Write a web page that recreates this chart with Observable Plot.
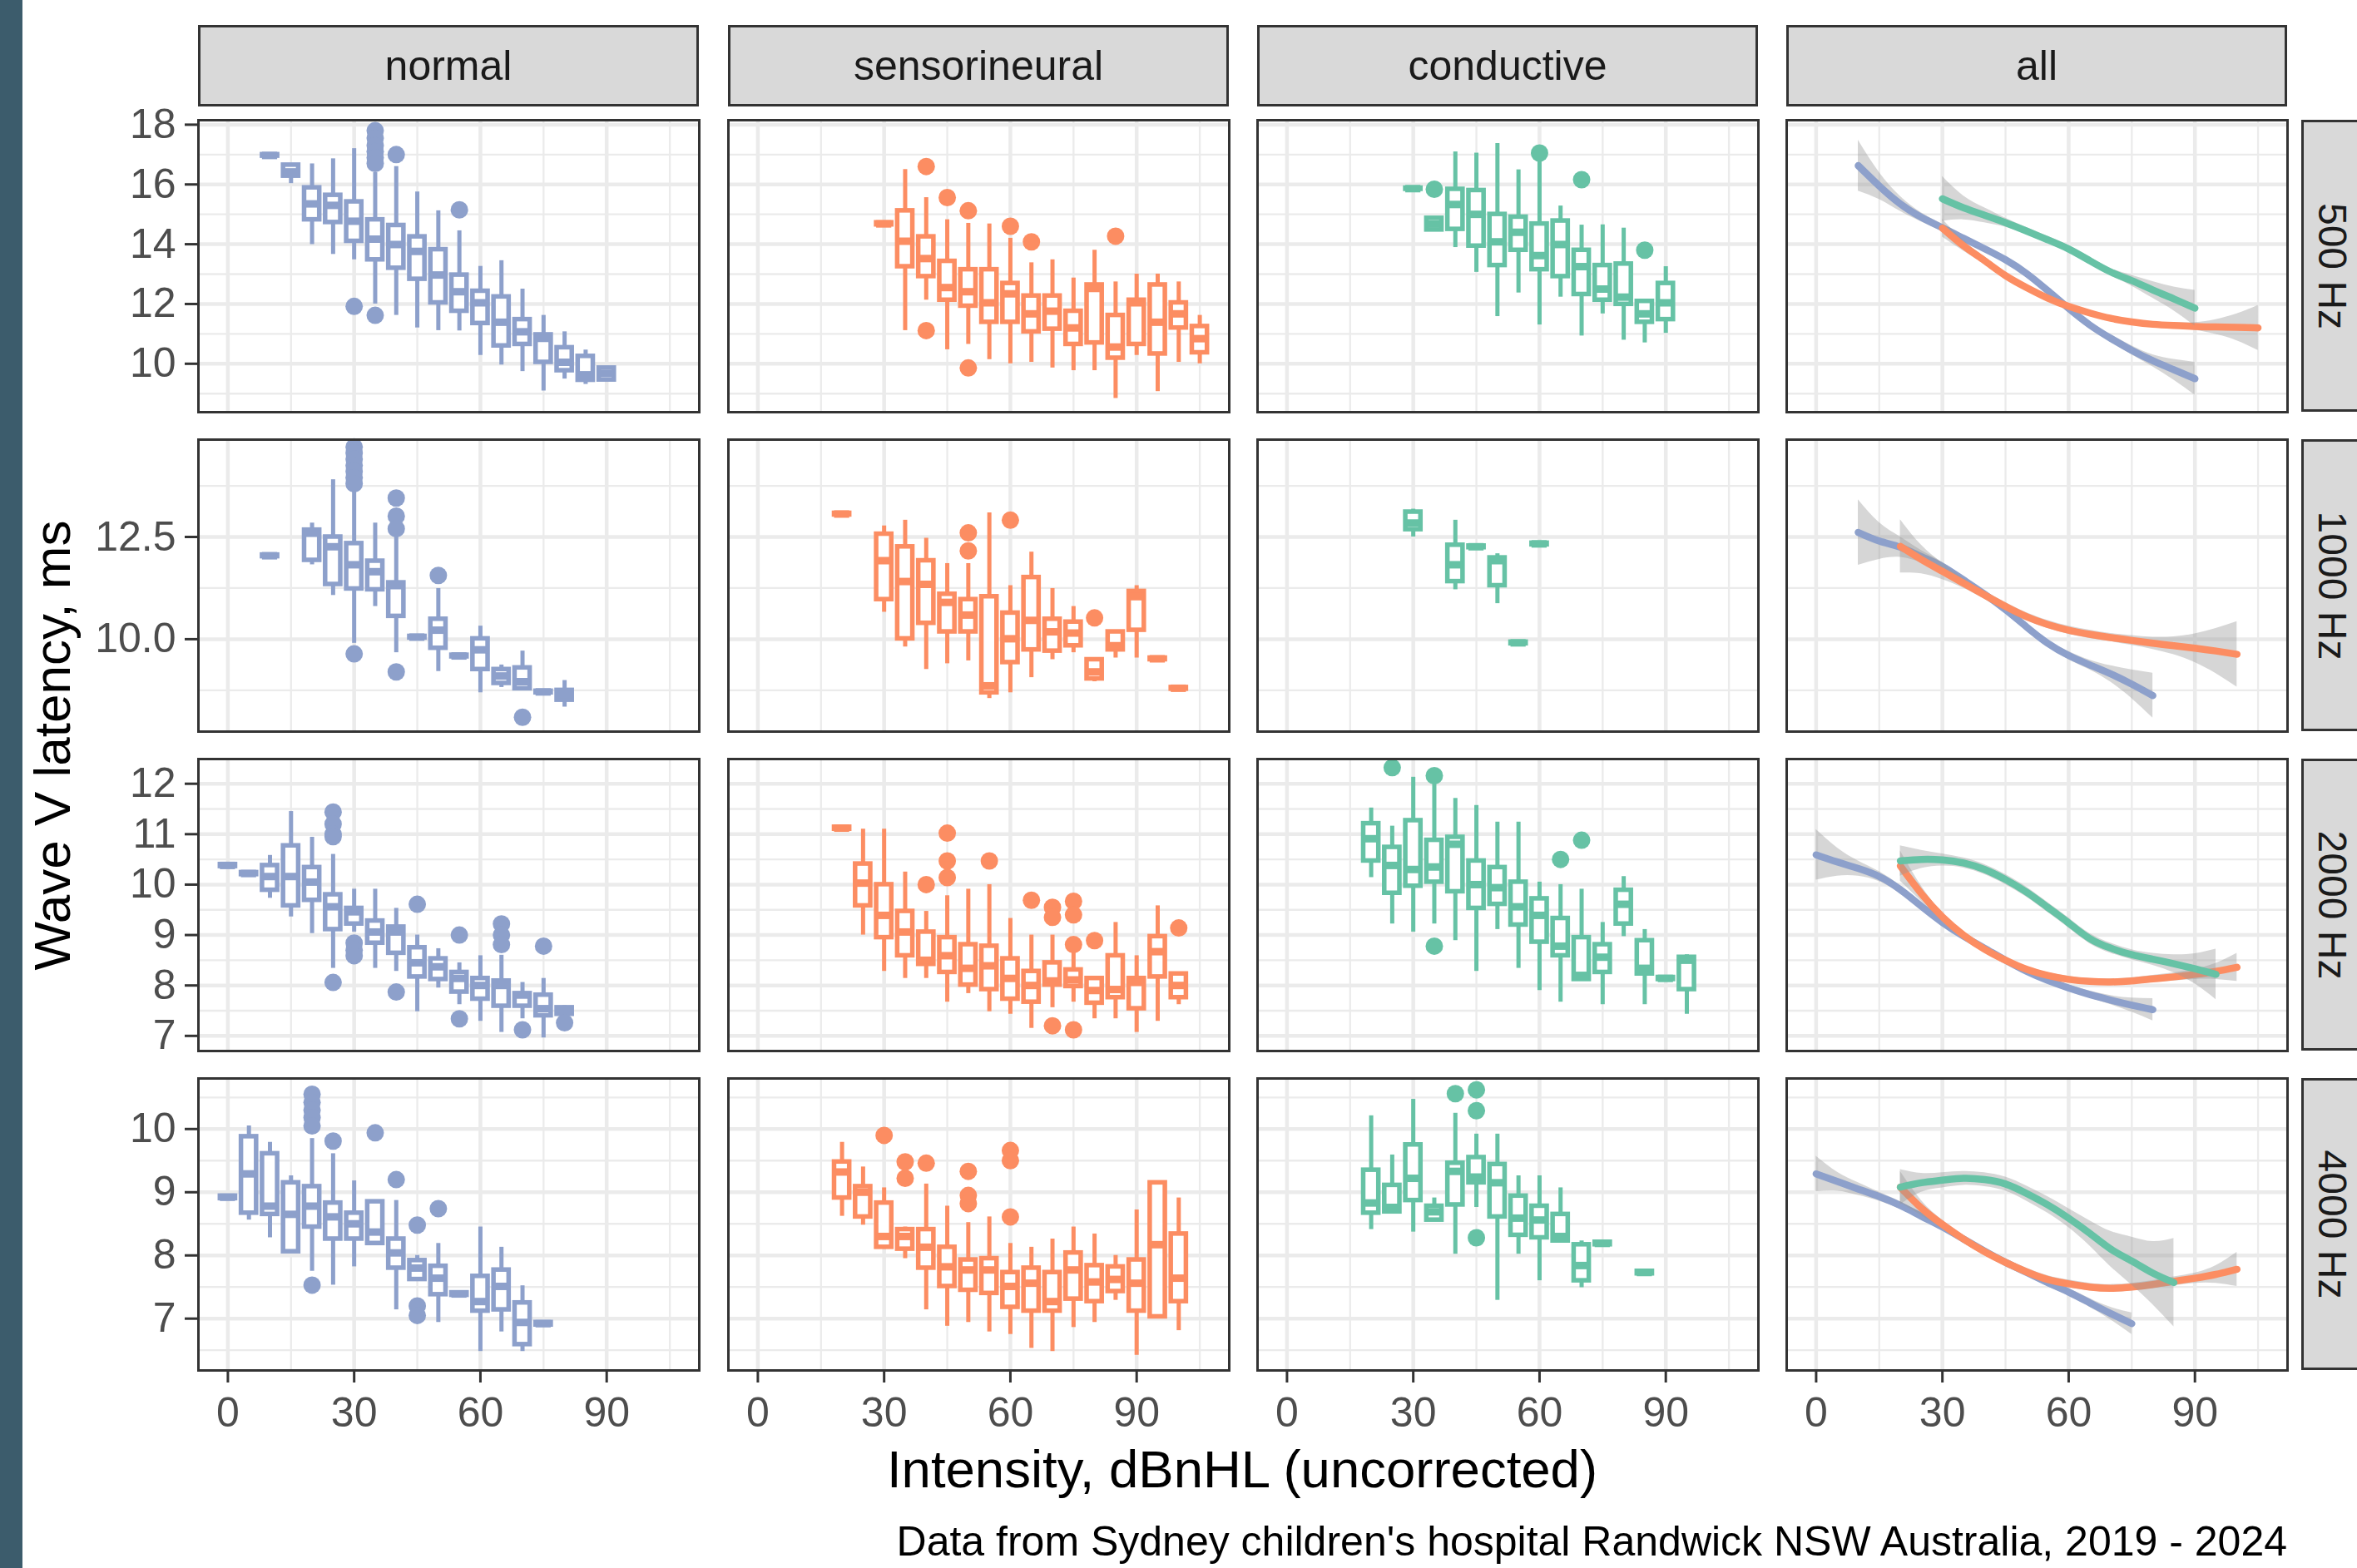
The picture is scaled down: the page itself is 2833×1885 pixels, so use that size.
<!DOCTYPE html>
<html><head><meta charset="utf-8">
<script src="https://cdn.jsdelivr.net/npm/d3@7"></script>
<script src="https://cdn.jsdelivr.net/npm/@observablehq/plot@0.6"></script>
<style>
html,body{margin:0;padding:0;background:#fff;}
#chart{position:relative;width:2833px;height:1885px;overflow:hidden;background:#fff;font-family:"Liberation Sans",Arial,sans-serif;}
.strip{position:absolute;box-sizing:border-box;background:#d9d9d9;border:3px solid #333;color:#1a1a1a;font-size:50px;display:flex;align-items:center;justify-content:center;}
.txt{position:absolute;white-space:nowrap;line-height:1;}
</style></head><body><div id="chart"></div>
<script>
// ---------- categories / labels ----------
const groups = ["normal", "sensorineural", "conductive", "all"];
const freqLabels = ["500 Hz", "1000 Hz", "2000 Hz", "4000 Hz"];
const groupColors = ["#8DA0CB", "#FC8D62", "#66C2A5"];
const xTicks = [0, 30, 60, 90];
const xMinor = [15, 45, 75, 105];
const yTicks = [[10, 12, 14, 16, 18], [10, 12.5], [7, 8, 9, 10, 11, 12], [7, 8, 9, 10]];
const yMinor = [[9, 11, 13, 15, 17], [8.75, 11.25, 13.75], [7.5, 8.5, 9.5, 10.5, 11.5], [6.5, 7.5, 8.5, 9.5, 10.5]];
const yDomains = [[8.38, 18.15], [7.74, 14.88], [6.7, 12.49], [6.18, 10.8]];
const xDomain = [-7, 112];

// ---------- boxplot summaries: [intensity, whiskerLow, q1, median, q3, whiskerHigh] ----------
const n500 = [[10,16.95,16.95,16.97,17.0,17.0],[15,16.03,16.28,16.42,16.65,16.7],[20,13.99,14.82,15.35,15.89,16.69],[25,13.66,14.73,15.3,15.64,16.86],[30,13.48,14.1,14.77,15.42,17.2],[35,12.0,13.48,14.17,14.82,16.4],[40,11.62,13.2,13.99,14.63,16.6],[45,11.2,12.83,13.76,14.25,15.75],[50,11.11,12.04,12.97,13.82,15.12],[55,11.1,11.76,12.41,12.97,14.45],[60,10.28,11.35,12.04,12.43,13.26],[65,9.96,10.6,11.39,12.24,13.45],[70,9.74,10.65,11.07,11.48,12.5],[75,9.09,10.05,10.85,10.97,11.62],[80,9.49,9.77,10.05,10.54,11.07],[85,9.31,9.45,9.63,10.25,10.46],[90,9.4,9.46,9.68,9.86,9.9]];
const s500 = [[30,14.65,14.65,14.68,14.72,14.72],[35,11.11,13.25,14.1,15.12,16.5],[40,12.13,12.92,13.52,14.25,15.56],[45,10.47,12.13,12.55,13.43,14.82],[50,10.65,11.93,12.41,13.15,14.7],[55,10.14,11.39,12.04,13.15,14.68],[60,10.0,11.39,12.34,12.69,14.2],[65,10.05,11.07,11.67,12.27,13.38],[70,9.86,11.16,11.76,12.27,13.48],[75,9.77,10.65,11.2,11.76,12.87],[80,9.77,10.7,12.52,12.64,13.8],[85,8.84,10.19,10.56,11.62,12.74],[90,10.28,10.65,12.04,12.13,13.0],[95,9.07,10.33,11.39,12.64,13.0],[100,10.05,11.2,11.67,12.04,12.74],[105,10.0,10.37,10.84,11.25,11.62]];
const c500 = [[30,15.84,15.84,15.86,15.88,15.88],[35,14.45,14.48,14.68,14.87,14.87],[40,13.89,14.5,15.33,15.84,17.09],[45,13.06,13.94,15.0,15.8,17.05],[50,11.58,13.29,14.08,15.0,17.37],[55,12.37,13.8,14.4,14.91,16.49],[60,11.3,13.15,13.62,14.68,16.77],[65,12.23,12.92,13.99,14.78,15.28],[70,10.93,12.32,13.25,13.8,14.64],[75,11.67,12.13,12.5,13.29,14.65],[80,10.79,11.99,12.23,13.34,14.54],[85,10.7,11.39,11.67,12.09,12.09],[90,11.02,11.48,12.04,12.69,13.25]];
const n1000 = [[10,12.02,12.02,12.04,12.06,12.06],[20,11.82,11.93,12.59,12.67,12.84],[25,11.07,11.34,12.26,12.5,13.9],[30,9.9,11.23,11.82,12.34,13.6],[35,10.8,11.21,11.65,11.91,12.84],[40,9.67,10.56,11.31,11.38,12.6],[45,10.03,10.03,10.05,10.07,10.07],[50,9.21,9.78,10.22,10.49,11.24],[55,9.57,9.57,9.59,9.61,9.61],[60,8.69,9.26,9.74,10.01,10.32],[65,8.82,8.92,9.1,9.26,9.37],[70,8.75,8.79,8.96,9.3,9.71],[75,8.69,8.69,8.71,8.73,8.73],[80,8.34,8.51,8.65,8.75,8.99]];
const s1000 = [[20,13.04,13.04,13.06,13.08,13.08],[30,10.66,10.97,11.92,12.57,12.77],[35,9.81,10.01,11.41,12.26,12.91],[40,9.26,10.39,11.34,11.92,12.47],[45,9.4,10.18,10.9,11.1,11.85],[50,9.47,10.18,10.59,10.97,11.85],[55,8.55,8.69,8.86,11.04,13.09],[60,8.69,9.43,10.01,10.64,11.31],[65,9.06,9.74,10.46,11.51,12.13],[70,9.5,9.71,10.18,10.49,11.24],[75,9.67,9.84,10.15,10.42,10.8],[80,8.96,9.03,9.2,9.5,9.5],[85,9.54,9.74,9.84,10.18,10.18],[90,9.54,10.22,11.04,11.17,11.31],[95,9.5,9.5,9.52,9.54,9.54],[100,8.78,8.78,8.8,8.82,8.82]];
const c1000 = [[30,12.5,12.68,12.84,13.11,13.18],[40,11.21,11.41,11.82,12.3,12.91],[45,12.24,12.24,12.26,12.28,12.28],[50,10.87,11.31,11.92,11.99,12.09],[55,9.89,9.89,9.91,9.93,9.93],[60,12.31,12.31,12.33,12.35,12.35]];
const n2000 = [[0,10.36,10.36,10.38,10.4,10.4],[5,10.2,10.2,10.22,10.24,10.24],[10,9.73,9.89,10.16,10.38,10.58],[15,9.36,9.58,10.16,10.77,11.45],[20,9.03,9.69,10.05,10.34,10.94],[25,8.34,9.11,9.56,9.8,10.6],[30,9.06,9.22,9.46,9.53,9.91],[35,8.34,8.84,9.06,9.28,9.91],[40,8.28,8.64,9.06,9.16,9.53],[45,7.48,8.17,8.45,8.75,9.0],[50,7.95,8.12,8.37,8.53,8.73],[55,7.62,7.87,8.14,8.26,8.45],[60,7.29,7.73,8.0,8.14,8.59],[65,7.07,7.59,8.0,8.09,8.6],[70,7.34,7.59,7.81,7.84,8.06],[75,6.96,7.4,7.54,7.81,8.14],[80,7.35,7.43,7.5,7.56,7.6]];
const s2000 = [[20,11.1,11.1,11.12,11.14,11.14],[25,9.0,9.58,10.03,10.41,11.1],[30,8.28,8.95,9.39,10.0,11.1],[35,8.14,8.59,9.06,9.47,10.25],[40,8.14,8.42,8.5,9.06,9.47],[45,7.67,8.26,8.59,8.95,9.78],[50,7.84,8.01,8.34,8.81,9.91],[55,7.48,7.92,8.39,8.78,10.0],[60,7.43,7.73,8.14,8.53,9.33],[65,7.15,7.67,8.0,8.28,9.0],[70,7.56,8.01,8.09,8.45,9.0],[75,7.67,7.98,8.11,8.31,8.78],[80,7.34,7.65,7.9,8.14,8.14],[85,7.34,7.76,7.92,8.59,9.25],[90,7.07,7.54,8.06,8.14,8.59],[95,7.29,8.17,8.67,8.97,9.58],[100,7.62,7.76,8.0,8.23,8.23]];
const c2000 = [[20,10.14,10.47,10.91,11.21,11.52],[25,9.22,9.83,10.38,10.74,11.16],[30,9.06,9.97,10.3,11.27,12.13],[35,9.22,10.05,10.35,10.88,12.0],[40,8.89,9.86,10.8,10.94,11.71],[45,8.28,9.53,10.0,10.47,11.57],[50,9.11,9.61,9.94,10.34,11.24],[55,8.34,9.2,9.56,10.05,11.24],[60,7.9,8.86,9.39,9.72,10.05],[65,7.67,8.59,8.78,9.33,10.0],[70,8.12,8.12,8.2,8.95,9.91],[75,7.62,8.26,8.56,8.81,9.25],[80,8.97,9.22,9.61,9.89,10.16],[85,7.62,8.23,8.34,8.89,9.11],[90,8.12,8.12,8.14,8.16,8.16],[95,7.43,7.92,8.5,8.56,8.61]];
const n4000 = [[0,8.9,8.9,8.92,8.94,8.94],[5,8.56,8.67,9.29,9.88,10.05],[10,8.28,8.65,8.78,9.61,9.79],[15,8.06,8.06,8.65,9.15,9.26],[20,7.75,8.45,8.78,9.09,9.85],[25,7.53,8.26,8.61,8.83,9.61],[30,7.82,8.26,8.5,8.67,9.18],[35,8.19,8.19,8.37,8.85,8.85],[40,7.14,7.8,8.04,8.26,8.87],[45,7.62,7.62,7.8,7.92,8.0],[50,6.94,7.38,7.64,7.83,8.19],[55,7.37,7.37,7.39,7.41,7.41],[60,6.48,7.12,7.27,7.67,8.45],[65,6.79,7.14,7.51,7.77,8.13],[70,6.48,6.59,6.94,7.25,7.52],[75,6.9,6.9,6.92,6.94,6.94]];
const s4000 = [[20,8.62,8.91,9.32,9.48,9.79],[25,8.48,8.61,9.0,9.09,9.4],[30,8.1,8.13,8.3,8.83,9.07],[35,7.95,8.1,8.3,8.41,8.45],[40,7.14,7.8,8.13,8.41,9.13],[45,6.88,7.51,7.82,8.13,8.78],[50,6.94,7.45,7.77,7.93,8.52],[55,6.79,7.4,7.77,7.95,8.61],[60,6.75,7.18,7.51,7.73,8.19],[65,6.53,7.12,7.56,7.8,8.13],[70,6.48,7.12,7.27,7.73,8.26],[75,6.86,7.31,7.77,8.04,8.45],[80,6.94,7.27,7.58,7.84,8.34],[85,7.29,7.43,7.62,7.82,8.0],[90,6.42,7.12,7.56,7.93,8.72],[95,7.01,7.03,8.17,9.15,9.15],[100,6.81,7.27,7.64,8.34,8.91]];
const c4000 = [[20,8.41,8.67,8.83,9.35,10.21],[25,8.69,8.69,8.76,9.11,9.59],[30,8.37,8.87,9.22,9.75,10.47],[35,8.56,8.56,8.69,8.78,8.91],[40,8.02,8.8,9.33,9.46,10.25],[45,8.76,9.15,9.24,9.55,9.92],[50,7.29,8.61,9.15,9.44,9.92],[55,8.02,8.32,8.59,8.94,9.26],[60,7.6,8.28,8.56,8.78,9.26],[65,8.23,8.23,8.3,8.65,9.07],[70,7.49,7.6,7.84,8.17,8.23],[75,8.17,8.17,8.19,8.21,8.21],[85,7.71,7.71,7.73,7.75,7.75]];

// ---------- outliers: [intensity, latency] ----------
const n500out = [[30,11.92],[35,17.8],[35,17.55],[35,17.3],[35,17.1],[35,16.9],[35,16.7],[35,11.62],[40,17.0],[55,15.15]];
const s500out = [[40,16.6],[40,11.11],[45,15.56],[50,15.12],[50,9.86],[60,14.6],[65,14.08],[85,14.27]];
const c500out = [[35,15.84],[60,17.05],[70,16.16],[85,13.8]];
const n1000out = [[30,14.7],[30,14.55],[30,14.4],[30,14.25],[30,14.1],[30,13.95],[30,13.8],[30,9.64],[40,13.45],[40,13.01],[40,12.7],[40,9.2],[50,11.56],[70,8.09]];
const s1000out = [[50,12.6],[50,12.16],[60,12.91],[80,10.52]];
const c1000out = [];
const n2000out = [[25,11.44],[25,11.2],[25,11.0],[25,10.95],[25,8.06],[30,8.84],[30,8.7],[30,8.59],[40,7.87],[45,9.61],[55,9.0],[55,7.34],[65,9.22],[65,9.0],[65,8.81],[70,7.12],[75,8.78],[80,7.26]];
const s2000out = [[40,10.0],[45,11.02],[45,10.47],[45,10.14],[55,10.47],[65,9.69],[70,9.55],[70,9.35],[70,7.2],[75,9.67],[75,9.4],[75,8.81],[75,7.12],[80,8.89],[100,9.14]];
const c2000out = [[25,12.32],[35,12.16],[35,8.78],[65,10.5],[70,10.88]];
const n4000out = [[20,10.55],[20,10.42],[20,10.3],[20,10.18],[20,10.05],[20,7.53],[25,9.81],[35,9.94],[40,9.2],[45,8.48],[45,7.2],[45,7.05],[50,8.74]];
const s4000out = [[30,9.9],[35,9.48],[35,9.22],[40,9.46],[50,9.33],[50,8.95],[50,8.82],[60,9.66],[60,9.5],[60,8.61]];
const c4000out = [[40,10.56],[45,10.62],[45,10.29],[45,8.28]];

// ---------- smooth fits: [intensity, fitted latency, band half-width] ----------
const sm500N = [[10,16.63,0.85],[15,15.95,0.45],[20,15.35,0.25],[25,14.9,0.15],[30,14.55,0.12],[35,14.2,0.1],[40,13.85,0.1],[45,13.48,0.1],[50,13.02,0.1],[55,12.45,0.1],[60,11.85,0.1],[65,11.3,0.1],[70,10.85,0.12],[75,10.45,0.15],[80,10.1,0.2],[85,9.8,0.35],[90,9.5,0.55]];
const sm500S = [[30,14.54,0.3],[35,13.95,0.18],[40,13.45,0.12],[45,12.95,0.1],[50,12.55,0.08],[55,12.2,0.08],[60,11.92,0.08],[65,11.7,0.08],[70,11.52,0.08],[75,11.4,0.08],[80,11.32,0.08],[85,11.28,0.1],[90,11.25,0.13],[95,11.23,0.25],[100,11.22,0.45],[105,11.2,0.75]];
const sm500C = [[30,15.52,0.75],[35,15.22,0.4],[40,14.97,0.25],[45,14.72,0.15],[50,14.44,0.12],[55,14.15,0.12],[60,13.84,0.12],[65,13.45,0.12],[70,13.07,0.12],[75,12.78,0.18],[80,12.47,0.28],[85,12.17,0.4],[90,11.86,0.6]];
const sm1000N = [[10,12.61,0.8],[15,12.4,0.45],[20,12.25,0.25],[25,12.02,0.15],[30,11.78,0.1],[35,11.45,0.08],[40,11.1,0.08],[45,10.72,0.08],[50,10.3,0.08],[55,9.9,0.08],[60,9.6,0.1],[65,9.37,0.12],[70,9.15,0.2],[75,8.9,0.35],[80,8.62,0.55]];
const sm1000S = [[20,12.27,0.65],[25,11.95,0.35],[30,11.66,0.2],[35,11.37,0.12],[40,11.08,0.1],[45,10.8,0.1],[50,10.55,0.1],[55,10.36,0.1],[60,10.22,0.1],[65,10.12,0.1],[70,10.04,0.1],[75,9.97,0.12],[80,9.9,0.15],[85,9.84,0.22],[90,9.78,0.35],[95,9.71,0.55],[100,9.63,0.8]];
const sm2000N = [[0,10.59,0.5],[5,10.45,0.28],[10,10.32,0.15],[15,10.16,0.1],[20,9.9,0.08],[25,9.57,0.06],[30,9.25,0.06],[35,8.98,0.06],[40,8.74,0.06],[45,8.5,0.06],[50,8.28,0.06],[55,8.1,0.06],[60,7.95,0.06],[65,7.82,0.07],[70,7.71,0.09],[75,7.61,0.14],[80,7.52,0.22]];
const sm2000S = [[20,10.37,0.3],[25,9.82,0.15],[30,9.36,0.08],[35,9.0,0.06],[40,8.72,0.06],[45,8.5,0.06],[50,8.32,0.06],[55,8.2,0.06],[60,8.12,0.06],[65,8.08,0.06],[70,8.07,0.06],[75,8.09,0.06],[80,8.13,0.07],[85,8.17,0.08],[90,8.22,0.1],[95,8.28,0.16],[100,8.36,0.28]];
const sm2000C = [[20,10.47,0.3],[25,10.5,0.18],[30,10.49,0.12],[35,10.43,0.1],[40,10.3,0.1],[45,10.1,0.1],[50,9.85,0.1],[55,9.55,0.1],[60,9.24,0.1],[65,8.93,0.1],[70,8.74,0.1],[75,8.61,0.1],[80,8.52,0.12],[85,8.43,0.18],[90,8.33,0.3],[95,8.22,0.5]];
const sm4000N = [[0,9.29,0.28],[5,9.17,0.15],[10,9.05,0.1],[15,8.93,0.07],[20,8.79,0.06],[25,8.62,0.05],[30,8.45,0.05],[35,8.26,0.05],[40,8.07,0.05],[45,7.89,0.05],[50,7.73,0.05],[55,7.57,0.06],[60,7.42,0.06],[65,7.25,0.07],[70,7.08,0.1],[75,6.92,0.17]];
const sm4000S = [[20,9.08,0.25],[25,8.75,0.12],[30,8.49,0.07],[35,8.26,0.06],[40,8.06,0.06],[45,7.89,0.06],[50,7.74,0.06],[55,7.62,0.06],[60,7.55,0.06],[65,7.5,0.06],[70,7.48,0.06],[75,7.5,0.06],[80,7.54,0.06],[85,7.59,0.07],[90,7.64,0.08],[95,7.7,0.14],[100,7.78,0.27]];
const sm4000C = [[20,9.08,0.28],[25,9.15,0.15],[30,9.19,0.12],[35,9.22,0.11],[40,9.2,0.11],[45,9.13,0.11],[50,8.98,0.12],[55,8.8,0.13],[60,8.59,0.15],[65,8.35,0.2],[70,8.1,0.28],[75,7.91,0.38],[80,7.72,0.5],[85,7.57,0.7]];

const boxTable = [[n500, s500, c500], [n1000, s1000, c1000], [n2000, s2000, c2000], [n4000, s4000, c4000]];
const outTable = [[n500out, s500out, c500out], [n1000out, s1000out, c1000out], [n2000out, s2000out, c2000out], [n4000out, s4000out, c4000out]];
const smoothTable = [[sm500N, sm500S, sm500C], [sm1000N, sm1000S, null], [sm2000N, sm2000S, sm2000C], [sm4000N, sm4000S, sm4000C]];

// ---------- layout ----------
const chart = document.getElementById("chart");
const colX = [238, 875, 1511, 2147];
const rowY = [144, 528, 912, 1296];
const W = 602, H = 351;
const FONT = '"Liberation Sans", Arial, sans-serif';

function add(el) { chart.appendChild(el); return el; }
function div(cls, css, text) {
  const d = document.createElement("div");
  d.className = cls;
  Object.assign(d.style, css);
  if (text != null) d.textContent = text;
  return add(d);
}

// left dark band
div("", {position: "absolute", left: "0px", top: "0px", width: "27px", height: "1885px", background: "#3c5c6c"});

function boxMarks(data, out, color) {
  const hw = 1.8;
  return [
    Plot.ruleX(data, {x: d => d[0], y1: d => d[1], y2: d => d[2], stroke: color, strokeWidth: 5}),
    Plot.ruleX(data, {x: d => d[0], y1: d => d[4], y2: d => d[5], stroke: color, strokeWidth: 5}),
    Plot.rect(data, {x1: d => d[0] - hw, x2: d => d[0] + hw, y1: d => d[2], y2: d => d[4], fill: "white", stroke: color, strokeWidth: 5.5}),
    Plot.ruleY(data, {x1: d => d[0] - hw, x2: d => d[0] + hw, y: d => d[3], stroke: color, strokeWidth: 9}),
    Plot.dot(out, {x: d => d[0], y: d => d[1], r: 10.5, fill: color, stroke: "none"})
  ];
}
function smoothMarks(list) {
  const m = [];
  list.forEach((s, i) => {
    if (!s) return;
    m.push(Plot.areaY(s, {x: d => d[0], y1: d => d[1] - d[2], y2: d => d[1] + d[2], fill: "#999999", fillOpacity: 0.4, curve: "natural"}));
    m.push(Plot.line(s, {x: d => d[0], y: d => d[1], stroke: groupColors[i], strokeWidth: 8.5, curve: "natural"}));
  });
  return m;
}

for (let r = 0; r < 4; r++) {
  for (let c = 0; c < 4; c++) {
    const ml = c === 0 ? 238 : 0;
    const mb = r === 3 ? 120 : 0;
    const content = c < 3 ? boxMarks(boxTable[r][c], outTable[r][c], groupColors[c]) : smoothMarks(smoothTable[r]);
    const svg = Plot.plot({
      width: W + ml, height: H + mb,
      marginLeft: ml, marginRight: 0, marginTop: 0, marginBottom: mb,
      style: {background: "none", overflow: "visible", fontFamily: FONT, fontSize: "50px", color: "#4d4d4d"},
      x: {domain: xDomain, axis: r === 3 ? "bottom" : null, ticks: xTicks, tickSize: 15, tickPadding: 17, label: null, tickFormat: d => String(d)},
      y: {domain: yDomains[r], axis: c === 0 ? "left" : null, ticks: yTicks[r], tickSize: 16, tickPadding: 11, label: null,
          tickFormat: r === 1 ? (d => d.toFixed(1)) : (d => String(d))},
      marks: [
        Plot.ruleX(xMinor, {stroke: "#ebebeb", strokeWidth: 2.3}),
        Plot.ruleY(yMinor[r], {stroke: "#ebebeb", strokeWidth: 2.3}),
        Plot.ruleX(xTicks, {stroke: "#ebebeb", strokeWidth: 4.5}),
        Plot.ruleY(yTicks[r], {stroke: "#ebebeb", strokeWidth: 4.5}),
        ...content,
        Plot.frame({stroke: "#333333", strokeWidth: 3})
      ]
    });
    svg.querySelectorAll('[aria-label$="axis tick"] path, [aria-label$="axis tick"] line, g.tick line').forEach(e => {
      e.setAttribute("stroke-width", "3");
      e.setAttribute("stroke", "#333333");
    });
    svg.style.position = "absolute";
    svg.style.left = (colX[c] - ml) + "px";
    svg.style.top = rowY[r] + "px";
    add(svg);
  }
}

// top strips
groups.forEach((g, c) => {
  div("strip", {left: colX[c] + "px", top: "30px", width: W + "px", height: "98px"}, g);
});
// right strips (cut by the right edge, as in the source)
freqLabels.forEach((f, r) => {
  div("strip", {left: "2766px", top: rowY[r] + "px", width: "98px", height: H + "px"});
  div("txt", {left: "2803px", top: (rowY[r] + H / 2) + "px", fontSize: "48px", color: "#1a1a1a",
    transform: "translate(-50%,-50%) rotate(90deg)"}, f);
});

// axis titles & caption
div("txt", {left: "63px", top: "896px", fontSize: "62px", color: "#000",
  transform: "translate(-50%,-50%) rotate(-90deg)"}, "Wave V latency, ms");
div("txt", {left: "1493px", top: "1735px", fontSize: "63.5px", color: "#000",
  transform: "translateX(-50%)"}, "Intensity, dBnHL (uncorrected)");
div("txt", {right: (2833 - 2749) + "px", top: "1828px", fontSize: "50px", color: "#000"},
  "Data from Sydney children's hospital Randwick NSW Australia, 2019 - 2024");
</script></body></html>
